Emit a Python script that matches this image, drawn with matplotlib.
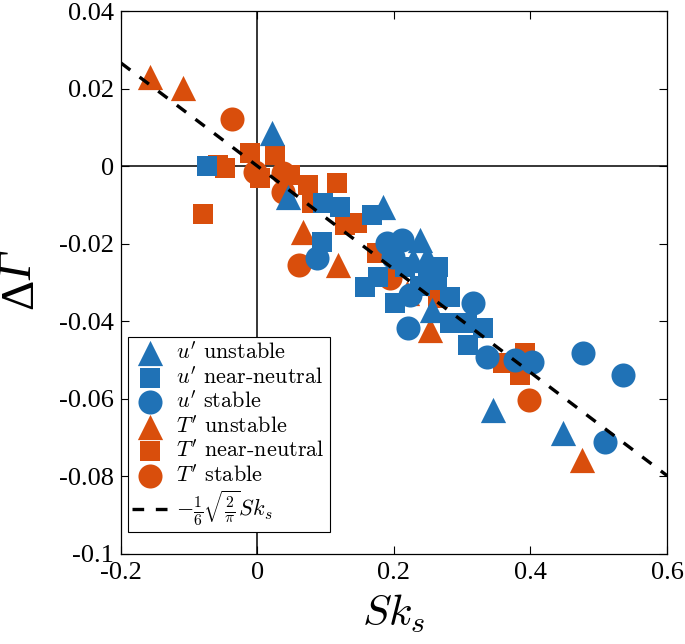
import numpy as np
import matplotlib
matplotlib.use("Agg")
import matplotlib.pyplot as plt

plt.rcParams['mathtext.fontset'] = 'cm'
plt.rcParams['axes.unicode_minus'] = False

# u' (velocity) skewness vs Delta Gamma
u_unst_x = [0.021, 0.045, 0.184, 0.238, 0.228, 0.248, 0.256, 0.345, 0.448]
u_unst_y = [0.0085, -0.008, -0.0106, -0.0191, -0.0242, -0.0235, -0.0371, -0.0629, -0.0688]

u_neu_x = [-0.074, 0.096, 0.121, 0.168, 0.094, 0.158, 0.177, 0.201, 0.263, 0.282,
           0.282, 0.307, 0.330, 0.308, 0.216, 0.265, 0.238, 0.250]
u_neu_y = [0.0, -0.0095, -0.0106, -0.0126, -0.0196, -0.0312, -0.0286, -0.0353, -0.0294, -0.0338,
           -0.0405, -0.0405, -0.0418, -0.0461, -0.026, -0.026, -0.031, -0.028]

u_stab_x = [0.087, 0.190, 0.212, 0.199, 0.223, 0.221, 0.316, 0.336, 0.377, 0.402, 0.477, 0.536, 0.509]
u_stab_y = [-0.0237, -0.0199, -0.0191, -0.0235, -0.0333, -0.0418, -0.0353, -0.0492, -0.0500,
            -0.0505, -0.0482, -0.0539, -0.0712]

# T' (temperature)
t_unst_x = [-0.158, -0.109, 0.067, 0.118, 0.219, 0.253, 0.475]
t_unst_y = [0.0229, 0.0201, -0.0170, -0.0255, -0.0327, -0.0423, -0.0758]

t_neu_x = [-0.080, -0.058, -0.048, -0.011, 0.026, 0.004, 0.048, 0.074, 0.080, 0.116,
           0.128, 0.146, 0.175, 0.360, 0.392, 0.385, 0.264]
t_neu_y = [-0.0124, 0.0003, -0.0005, 0.0034, 0.0028, -0.0031, -0.0023, -0.0049, -0.0095, -0.0044,
           -0.0152, -0.0147, -0.0224, -0.0508, -0.0482, -0.0539, -0.034]

t_stab_x = [-0.037, -0.004, 0.037, 0.037, 0.061, 0.194, 0.398]
t_stab_y = [0.0121, -0.0015, -0.0018, -0.0067, -0.0255, -0.0289, -0.0603]

blue = '#2072b6'
orange = '#d94e0c'

fig = plt.figure(figsize=(6.85, 6.44), dpi=100)
ax = fig.add_axes([0.1766, 0.1398, 0.7971, 0.8431])

ax.axhline(0, color='k', lw=1.1, zorder=1)
ax.axvline(0, color='k', lw=1.1, zorder=1)

tri, sq, ci = 330, 190, 300
h = {}
h['to'] = ax.scatter(t_unst_x, t_unst_y, s=tri, marker='^', color=orange, lw=0, zorder=2)
h['ts'] = ax.scatter(t_neu_x, t_neu_y, s=sq, marker='s', color=orange, lw=0, zorder=2)
h['tc'] = ax.scatter(t_stab_x, t_stab_y, s=ci, marker='o', color=orange, lw=0, zorder=2)
h['uo'] = ax.scatter(u_unst_x, u_unst_y, s=tri, marker='^', color=blue, lw=0, zorder=3)
h['us'] = ax.scatter(u_neu_x, u_neu_y, s=sq, marker='s', color=blue, lw=0, zorder=3)
h['uc'] = ax.scatter(u_stab_x, u_stab_y, s=ci, marker='o', color=blue, lw=0, zorder=3)

xx = np.array([-0.2, 0.6])
line, = ax.plot(xx, -1/6*np.sqrt(2/np.pi)*xx, 'k--', lw=2.4, dashes=(3.5, 3.5), zorder=4)

ax.set_xlim(-0.2, 0.6)
ax.set_ylim(-0.1, 0.04)
ax.set_xticks([-0.2, 0, 0.2, 0.4, 0.6])
ax.set_xticklabels(['-0.2', '0', '0.2', '0.4', '0.6'])
ax.set_yticks([-0.1, -0.08, -0.06, -0.04, -0.02, 0, 0.02, 0.04])
ax.set_yticklabels(['-0.1', '-0.08', '-0.06', '-0.04', '-0.02', '0', '0.02', '0.04'])
ax.tick_params(direction='in', top=True, right=True, length=6, width=0.8, labelsize=19)
ax.tick_params(axis='x', pad=6)
ax.tick_params(axis='y', pad=5)
for lab in ax.get_xticklabels() + ax.get_yticklabels():
    lab.set_family('Liberation Serif')
for sp in ax.spines.values():
    sp.set_linewidth(0.9)

ax.set_xlabel(r'$Sk_s$', fontsize=31, labelpad=6)

# y label: upright Delta + italic Gamma (mathtext forces Greek capitals upright)
fig.text(0.030, 0.544, 'Δ', rotation=90, fontsize=34, family='Liberation Serif',
         ha='center', va='center')
fig.text(0.030, 0.5865, 'Γ', rotation=90, fontsize=34, family='Liberation Serif',
         style='italic', ha='center', va='center')

labels = [r"$u^{\prime}$ unstable", r"$u^{\prime}$ near-neutral", r"$u^{\prime}$ stable",
          r"$T^{\prime}$ unstable", r"$T^{\prime}$ near-neutral", r"$T^{\prime}$ stable",
          r"$-\frac{1}{6}\sqrt{\frac{2}{\pi}}Sk_s$"]
leg = ax.legend([h['uo'], h['us'], h['uc'], h['to'], h['ts'], h['tc'], line], labels,
                loc='lower left', bbox_to_anchor=(0.012, 0.040), fancybox=False,
                edgecolor='k', framealpha=1, prop={'family': 'cmr10', 'size': 16},
                handlelength=1.6, handletextpad=0.4, labelspacing=0.13, borderpad=0.2,
                borderaxespad=0)
leg.get_frame().set_linewidth(0.8)

fig.savefig('out.png', dpi=100)
